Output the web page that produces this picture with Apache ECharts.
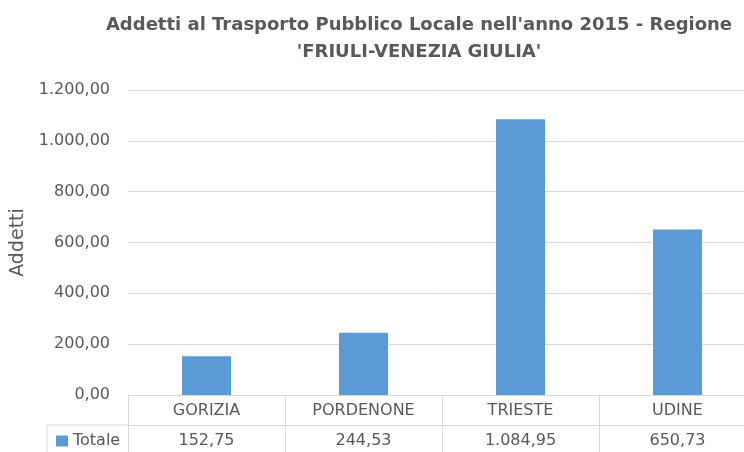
<!DOCTYPE html>
<html>
<head>
<meta charset="utf-8">
<script src="https://cdn.jsdelivr.net/npm/echarts@6/dist/echarts.min.js"></script>
<style>
  html, body { margin: 0; padding: 0; background: #fff; }
  #chart { width: 744px; height: 452px; }
</style>
</head>
<body>
<div id="chart"></div>
<script>
// dati
const categories = ["GORIZIA", "PORDENONE", "TRIESTE", "UDINE"];
const totale = [152.75, 244.53, 1084.95, 650.73];
const seriesName = "Totale";
const yTicks = [0, 200, 400, 600, 800, 1000, 1200];

const FONT = "DejaVu Sans";
const GREY = "#595959";
const LINE = "#D9D9D9";

// formato italiano: 1.084,95
const fmt = (v) => {
  const parts = Number(v).toFixed(2).split(".");
  return parts[0].replace(/\B(?=(\d{3})+(?!\d))/g, ".") + "," + parts[1];
};

const chart = echarts.init(document.getElementById("chart"));

const gridLeft = 128;
const gridTop = 90;
const gridBottomY = 395;
const rowH = 30;

chart.setOption({
  animation: false,
  title: {
    text: "Addetti al Trasporto Pubblico Locale nell'anno 2015 - Regione\n'FRIULI-VENEZIA GIULIA'",
    left: 419,
    top: 12,
    padding: 0,
    textAlign: "center",
    textStyle: {
      fontFamily: FONT,
      fontSize: 18,
      fontWeight: "bold",
      color: GREY,
      lineHeight: 27,
    },
  },
  legend: {
    left: 56,
    top: 433,
    padding: 0,
    itemWidth: 12,
    itemHeight: 11,
    icon: "rect",
    data: [seriesName],
    textStyle: { fontFamily: FONT, fontSize: 16, color: GREY },
  },
  grid: {
    left: gridLeft,
    top: gridTop,
    width: 628,
    height: gridBottomY - gridTop,
    containLabel: false,
    outerBoundsMode: "none",
  },
  xAxis: [
    {
      type: "category",
      data: categories,
      position: "bottom",
      axisLine: { lineStyle: { color: LINE } },
      axisTick: { show: true, length: rowH * 2 + 5, lineStyle: { color: LINE } },
      axisLabel: {
        interval: 0,
        margin: 8,
        fontFamily: FONT,
        fontSize: 16,
        color: GREY,
      },
    },
    {
      type: "category",
      data: totale.map(fmt),
      position: "bottom",
      offset: rowH,
      axisLine: { show: true, lineStyle: { color: LINE } },
      axisTick: { show: false },
      axisLabel: {
        interval: 0,
        margin: 8,
        fontFamily: FONT,
        fontSize: 16,
        color: GREY,
      },
    },
  ],
  yAxis: {
    type: "value",
    min: yTicks[0],
    max: yTicks[yTicks.length - 1],
    interval: yTicks[1] - yTicks[0],
    name: "Addetti",
    nameLocation: "middle",
    nameGap: 98,
    nameTextStyle: { fontFamily: FONT, fontSize: 19, color: GREY },
    axisLine: { show: false },
    axisTick: { show: false },
    splitLine: { lineStyle: { color: LINE } },
    axisLabel: {
      margin: 18,
      fontFamily: FONT,
      fontSize: 16,
      color: GREY,
      formatter: fmt,
    },
  },
  graphic: [
    // bordi della cella "Totale" a sinistra della tabella dati
    {
      type: "line",
      shape: { x1: 47, y1: gridBottomY + rowH, x2: gridLeft, y2: gridBottomY + rowH },
      style: { stroke: LINE, lineWidth: 1 },
    },
    {
      type: "line",
      shape: { x1: 47, y1: gridBottomY + rowH, x2: 47, y2: gridBottomY + rowH * 2 + 5 },
      style: { stroke: LINE, lineWidth: 1 },
    },
  ],
  series: [
    {
      name: seriesName,
      type: "bar",
      data: totale,
      barWidth: 49,
      itemStyle: { color: "#5B9BD5" },
    },
  ],
});
</script>
</body>
</html>
